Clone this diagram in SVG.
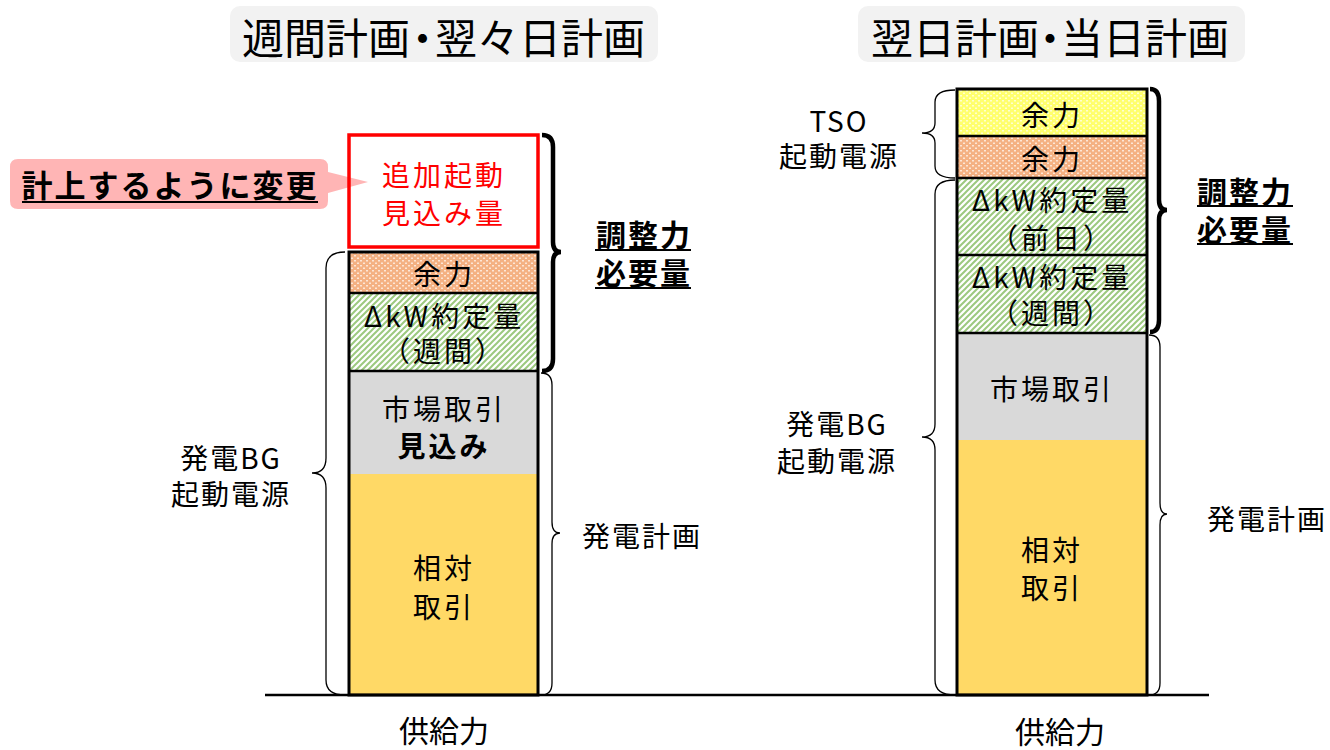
<svg xmlns="http://www.w3.org/2000/svg" width="1330" height="750" viewBox="0 0 1330 750">
<style>
text{font-family:"Noto Sans CJK JP","Noto Sans",sans-serif;fill:#000;text-anchor:middle;dominant-baseline:central}
.t{font-size:42px;text-anchor:start}
.b{font-size:28px;letter-spacing:3px}
.l{font-size:28px;letter-spacing:2px}
.bold{font-weight:bold}
.red{fill:#ff0000}
.sep{stroke:#000;stroke-width:2.5}
.frame{fill:none;stroke:#000;stroke-width:3}
.brace{fill:none;stroke:#000;stroke-width:1.3}
.bbrace{fill:none;stroke:#000;stroke-width:4.5}
.ul{stroke:#000;stroke-width:2}
</style>
<defs>
<pattern id="green" width="6" height="6" patternUnits="userSpaceOnUse">
<rect width="6" height="6" fill="#ffffff"/>
<path d="M-1,7 L7,-1 M-1,1 L1,-1 M5,7 L7,5" stroke="#9cc97f" stroke-width="2"/>
</pattern>
<pattern id="orange" width="6" height="5" patternUnits="userSpaceOnUse">
<rect width="6" height="5" fill="#f4b183"/>
<rect x="0" y="0" width="2" height="1.5" fill="#fde6d6"/>
<rect x="3" y="2.5" width="2" height="1.5" fill="#fde6d6"/>
</pattern>
<pattern id="yellow" width="6" height="5" patternUnits="userSpaceOnUse">
<rect width="6" height="5" fill="#ffff6e"/>
<rect x="0" y="0" width="2" height="1.5" fill="#ffffd0"/>
<rect x="3" y="2.5" width="2" height="1.5" fill="#ffffd0"/>
</pattern>
</defs>
<rect width="1330" height="750" fill="#ffffff"/>

<g id="title-left">
<rect x="230" y="6" width="428" height="56" rx="10" fill="#f2f2f2"/>
<text class="t" x="242" y="35">週間計画<tspan dx="-8.5">・</tspan><tspan dx="-8.5">翌々日計画</tspan></text>
</g>
<g id="title-right">
<rect x="858" y="6" width="387" height="56" rx="10" fill="#f2f2f2"/>
<text class="t" x="871" y="35">翌日計画<tspan dx="-10">・</tspan><tspan dx="-10">当日計画</tspan></text>
</g>

<!-- Left column -->
<g id="left-column">
<rect id="L-add-bg" x="349" y="135" width="189" height="112" fill="#ffffff"/>
<g id="L-yoryoku">
<rect x="349" y="252" width="189" height="41" fill="url(#orange)"/>
<text class="b" x="444" y="273">余力</text>
</g>
<g id="L-dkw">
<rect x="349" y="293" width="189" height="78" fill="url(#green)"/>
<text class="b" x="444" y="315">ΔkW約定量</text>
<text class="b" x="444" y="350">（週間）</text>
</g>
<g id="L-market">
<rect x="349" y="371" width="189" height="103" fill="#d9d9d9"/>
<text class="b" x="444" y="408">市場取引</text>
<text class="b bold" x="444" y="445">見込み</text>
</g>
<g id="L-sotai">
<rect x="349" y="474" width="189" height="221" fill="#ffd966"/>
<text class="b" x="444" y="567">相対</text>
<text class="b" x="444" y="606">取引</text>
</g>
<line class="sep" x1="349" y1="293" x2="538" y2="293"/>
<line class="sep" x1="349" y1="371" x2="538" y2="371"/>
<rect class="frame" x="349" y="252" width="189" height="443"/>
</g>

<g id="callout">
<path d="M18,159 H320 Q328,159 328,167 V172 L368,182 L328,193 V201 Q328,209 320,209 H18 Q10,209 10,201 V167 Q10,159 18,159 Z" fill="#ffb5b5"/>
<text class="bold" x="170" y="183" style="font-size:31px;letter-spacing:2px">計上するように変更</text>
<line class="ul" x1="22" y1="202" x2="318" y2="202"/>
</g>

<g id="L-add">
<rect x="349" y="135" width="189" height="112" fill="none" stroke="#ff0000" stroke-width="3.5"/>
<text class="b red" x="444" y="174">追加起動</text>
<text class="b red" x="444" y="212">見込み量</text>
</g>

<!-- Right column -->
<g id="right-column">
<g id="R-yoryoku-tso">
<rect x="957" y="89" width="190" height="47" fill="url(#yellow)"/>
<text class="b" x="1052" y="114">余力</text>
</g>
<g id="R-yoryoku">
<rect x="957" y="136" width="190" height="42" fill="url(#orange)"/>
<text class="b" x="1052" y="158">余力</text>
</g>
<g id="R-dkw-prev">
<rect x="957" y="178" width="190" height="77" fill="url(#green)"/>
<text class="b" x="1052" y="199">ΔkW約定量</text>
<text class="b" x="1052" y="237">（前日）</text>
</g>
<g id="R-dkw-week">
<rect x="957" y="255" width="190" height="78" fill="url(#green)"/>
<text class="b" x="1052" y="276">ΔkW約定量</text>
<text class="b" x="1052" y="312">（週間）</text>
</g>
<g id="R-market">
<rect x="957" y="333" width="190" height="107" fill="#d9d9d9"/>
<text class="b" x="1052" y="388">市場取引</text>
</g>
<g id="R-sotai">
<rect x="957" y="440" width="190" height="255" fill="#ffd966"/>
<text class="b" x="1052" y="549">相対</text>
<text class="b" x="1052" y="587">取引</text>
</g>
<line class="sep" x1="957" y1="136" x2="1147" y2="136"/>
<line class="sep" x1="957" y1="178" x2="1147" y2="178"/>
<line class="sep" x1="957" y1="255" x2="1147" y2="255"/>
<line class="sep" x1="957" y1="333" x2="1147" y2="333"/>
<rect class="frame" x="957" y="89" width="190" height="606"/>
</g>

<!-- Labels -->
<g id="L-bg-label">
<text class="l" x="231" y="457">発電BG</text>
<text class="l" x="231" y="493">起動電源</text>
</g>
<g id="L-plan-label">
<text class="l" x="642" y="535">発電計画</text>
</g>
<g id="L-chosei-label">
<text class="bold" x="644" y="233" style="font-size:30px;letter-spacing:2px">調整力</text>
<line class="ul" x1="595" y1="250" x2="691" y2="250"/>
<text class="bold" x="644" y="271" style="font-size:30px;letter-spacing:2px">必要量</text>
<line class="ul" x1="595" y1="288" x2="691" y2="288"/>
</g>
<g id="L-supply-label">
<text x="444" y="729" style="font-size:30px">供給力</text>
</g>

<g id="R-tso-label">
<text class="l" x="839" y="120">TSO</text>
<text class="l" x="839" y="155">起動電源</text>
</g>
<g id="R-bg-label">
<text class="l" x="837" y="423">発電BG</text>
<text class="l" x="837" y="460">起動電源</text>
</g>
<g id="R-plan-label">
<text class="l" x="1267" y="518">発電計画</text>
</g>
<g id="R-chosei-label">
<text class="bold" x="1245" y="190" style="font-size:30px;letter-spacing:2px">調整力</text>
<line class="ul" x1="1197" y1="206" x2="1293" y2="206"/>
<text class="bold" x="1245" y="228" style="font-size:30px;letter-spacing:2px">必要量</text>
<line class="ul" x1="1197" y1="244" x2="1293" y2="244"/>
</g>
<g id="R-supply-label">
<text x="1060" y="730" style="font-size:30px">供給力</text>
</g>

<!-- Connectors: braces and baseline -->
<g id="connectors">
<line x1="265" y1="695" x2="1209" y2="695" stroke="#000" stroke-width="2.5"/>
<path class="brace" d="M345,252 Q326,252 326,268 V458 Q326,473 312,473 Q326,473 326,488 V680 Q326,695 345,695"/>
<path class="bbrace" d="M542,135 Q553,135 553,147 V242 Q553,252 561,252 Q553,252 553,262 V359 Q553,371 542,371"/>
<path class="brace" d="M541,373 Q552,373 552,385 V522 Q552,533 560,533 Q552,533 552,544 V683 Q552,695 541,695"/>
<path class="brace" d="M955,90 Q935,90 935,102 V123 Q935,133 922,133 Q935,133 935,143 V166 Q935,178 955,178"/>
<path class="brace" d="M955,180 Q935,180 935,194 V424 Q935,437 922,437 Q935,437 935,450 V680 Q935,695 955,695"/>
<path class="bbrace" d="M1150,89 Q1159,89 1159,101 V200 Q1159,210 1167,210 Q1159,210 1159,220 V320 Q1159,332 1150,332"/>
<path class="brace" d="M1149,335 Q1160,335 1160,347 V503 Q1160,514 1167,514 Q1160,514 1160,525 V683 Q1160,695 1149,695"/>
</g>
</svg>
